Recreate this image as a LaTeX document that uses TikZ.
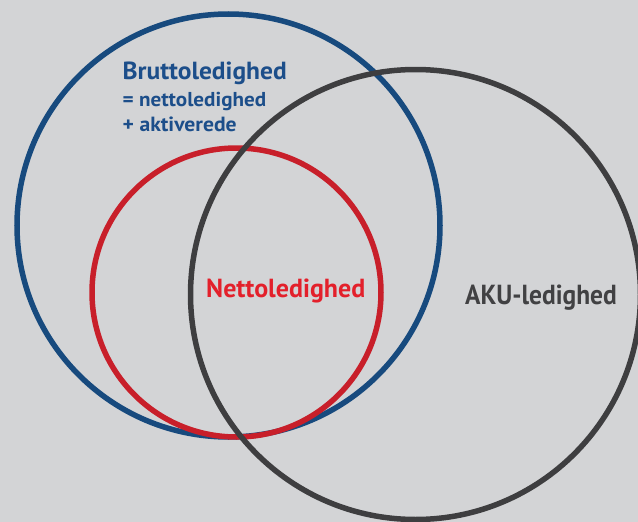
\documentclass[tikz,border=0pt]{standalone}
\usepackage{fontspec}
\setmainfont{PT Sans}
\definecolor{bg}{HTML}{D3D4D6}
\definecolor{cblue}{HTML}{174A7E}
\definecolor{cred}{HTML}{C81F2A}
\definecolor{tred}{HTML}{E3202B}
\definecolor{cgray}{HTML}{3E3E40}
\definecolor{tblue}{HTML}{1C4E8A}
\definecolor{tgray}{HTML}{414143}
\tikzset{
  ring/.style={line width=5.5pt},
  lbl/.style={inner sep=0pt, anchor=base west, font=\bfseries}
}
\begin{document}
\begin{tikzpicture}[x=1pt,y=-1pt]
\fill[bg] (0,0) rectangle (638,522);
\useasboundingbox (0,0) rectangle (638,522);
\draw[ring, cblue] (228.5,225.5) circle[radius=211.5];
\draw[ring, cred] (236.5,292.5) circle[radius=144.5];
\draw[ring, cgray] (415.5,294.5) circle[radius=225];
\node[lbl, text=tblue] (brutto) at (122.5,79.5) {\resizebox{164pt}{17.6pt}{Bruttoledighed}};
\node[lbl, text=tblue] (netto1) at (122.5,106.5) {\resizebox{143.5pt}{14.3pt}{= nettoledighed}};
\node[lbl, text=tblue] (aktiv) at (122.5,131.5) {\resizebox{114pt}{14.6pt}{+ aktiverede}};
\node[lbl, text=tred] (netto) at (206,297.7) {\resizebox{159pt}{18.6pt}{Nettoledighed}};
\node[lbl, text=tgray] (aku) at (465,304.3) {\resizebox{151.7pt}{19.6pt}{AKU-ledighed}};
\end{tikzpicture}
\end{document}
